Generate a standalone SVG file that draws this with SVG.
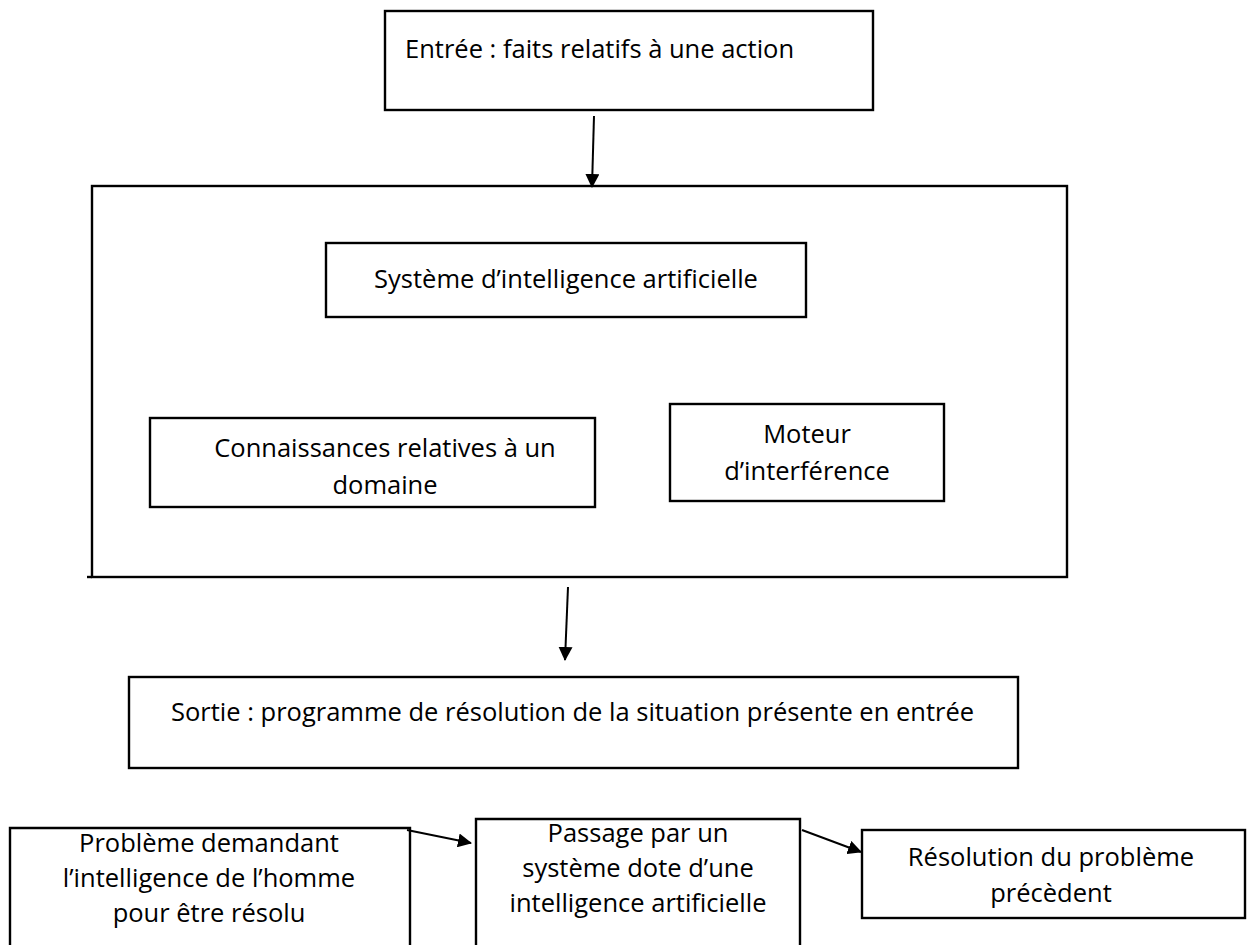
<svg xmlns="http://www.w3.org/2000/svg" width="1256" height="945" viewBox="0 0 1256 945">
  <style>
    .box { fill: none; stroke: #000; stroke-width: 2.4; }
    .edge { fill: none; stroke: #000; stroke-width: 2; }
    .lbl { font-family: "Open Sans", "Liberation Sans", sans-serif; font-size: 25.5px; fill: #000; }
    .c { text-anchor: middle; }
  </style>
  <defs>
    <marker id="arrow" markerWidth="14" markerHeight="14" refX="13" refY="7" orient="auto" markerUnits="userSpaceOnUse">
      <path d="M0,0 L14,7 L0,14 Z" fill="#000"/>
    </marker>
  </defs>
  <rect width="1256" height="945" fill="#fff"/>

  <!-- input -->
  <g id="entree">
    <rect class="box" x="385" y="11" width="488" height="99"/>
    <text class="lbl" x="405" y="58">Entrée : faits relatifs à une action</text>
  </g>

  <!-- enclosing frame of the AI system -->
  <g id="systeme-cadre">
    <rect class="box" x="92" y="186" width="975" height="391"/>
    <line class="box" x1="87" y1="577" x2="92" y2="577"/>
  </g>

  <g id="systeme">
    <rect class="box" x="326" y="243" width="480" height="74"/>
    <text class="lbl c" x="566" y="288">Système d’intelligence artificielle</text>
  </g>

  <g id="connaissances">
    <rect class="box" x="150" y="418" width="445" height="89"/>
    <text class="lbl c" x="385" y="457">Connaissances relatives à un</text>
    <text class="lbl c" x="385" y="494">domaine</text>
  </g>

  <g id="moteur">
    <rect class="box" x="670" y="404" width="274" height="97"/>
    <text class="lbl c" x="807" y="443">Moteur</text>
    <text class="lbl c" x="807" y="480">d’interférence</text>
  </g>

  <!-- output -->
  <g id="sortie">
    <rect class="box" x="129" y="677" width="889" height="91"/>
    <text class="lbl" x="171" y="721">Sortie : programme de résolution de la situation présente en entrée</text>
  </g>

  <!-- bottom chain: the two first boxes run past the lower edge -->
  <g id="probleme">
    <path class="box" d="M10,946 V828 H410 V946"/>
    <text class="lbl c" x="209" y="852">Problème demandant</text>
    <text class="lbl c" x="209" y="887">l’intelligence de l’homme</text>
    <text class="lbl c" x="209" y="922">pour être résolu</text>
  </g>

  <g id="passage">
    <path class="box" d="M476,946 V819 H800 V946"/>
    <text class="lbl c" x="638" y="842">Passage par un</text>
    <text class="lbl c" x="638" y="877">système dote d’une</text>
    <text class="lbl c" x="638" y="912">intelligence artificielle</text>
  </g>

  <g id="resolution">
    <rect class="box" x="862" y="830" width="383" height="88"/>
    <text class="lbl c" x="1051" y="866">Résolution du problème</text>
    <text class="lbl c" x="1051" y="902">précèdent</text>
  </g>

  <g id="connecteurs">
    <line class="edge" x1="594" y1="116" x2="592" y2="187" marker-end="url(#arrow)"/>
    <line class="edge" x1="568" y1="587" x2="565" y2="660" marker-end="url(#arrow)"/>
    <line class="edge" x1="407" y1="830" x2="471" y2="843" marker-end="url(#arrow)"/>
    <line class="edge" x1="802" y1="830" x2="861" y2="852" marker-end="url(#arrow)"/>
  </g>
</svg>
